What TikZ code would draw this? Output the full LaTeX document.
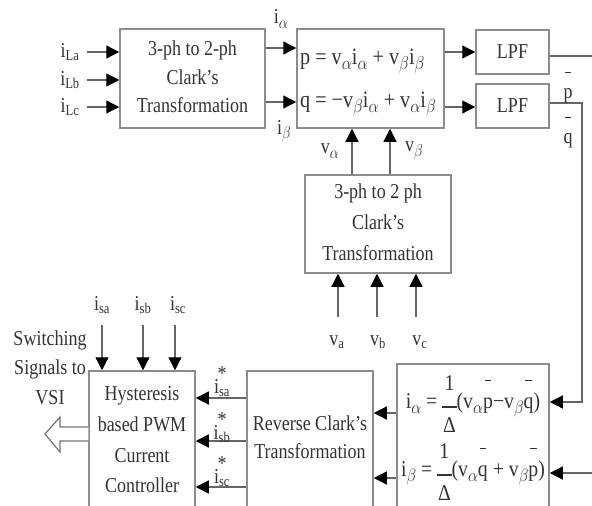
\documentclass[tikz,border=0pt]{standalone}
\usepackage{fontspec}
\setmainfont{Liberation Serif}
\usepackage{graphicx}
\usetikzlibrary{arrows.meta,calc}
\newcommand\vs[1]{\scalebox{1}[1.18]{#1}}
\newcommand\ml[1]{\scalebox{1}[1.18]{\begin{tabular}{@{}c@{}}#1\end{tabular}}}
\newcommand\ob[1]{\begin{tabular}[b]{@{}c@{}}\rule{6pt}{0.8pt}\\[-2pt]#1\end{tabular}}
\newcommand\st[1]{\scalebox{1}[1.18]{\begin{tabular}{@{}c@{}}*\\[-13pt]#1\end{tabular}}}
\newcommand\gs[1]{\raisebox{-4pt}{\fontsize{15}{15}\selectfont$#1$}}
\newcommand\myfr{\raisebox{-2.5pt}{\begin{tabular}{@{}c@{}}1\\[-10pt]\rule{13pt}{1.2pt}\\[-4pt]Δ\end{tabular}}}
\newcommand\fmq[1]{\scalebox{1.12}[1.3]{#1}}
\newcommand\fmi[1]{\scalebox{1.1}[1.25]{#1}}
\begin{document}
\begin{tikzpicture}[x=1pt,y=-1pt,
  font=\fontsize{18}{24}\selectfont, text=black!80,
  box/.style={draw=black!45, line width=1.5pt, inner sep=0pt},
  ln/.style={draw=black!60, line width=1.2pt},
  arr/.style={ln, -{Triangle[length=13pt,width=13pt,color=black]}}]
\useasboundingbox (0,0) rectangle (592,506);
\clip (0,0) rectangle (592,506);
\fill[white] (0,0) rectangle (592,506);

% boxes
\node[box, minimum width=145pt, minimum height=99pt] (clark1) at (192.5,78.5) {\ml{3-ph to 2-ph\\Clark's\\Transformation}};
\node[box, minimum width=147pt, minimum height=99pt] (pq) at (370.5,78.5) {};
\node[anchor=base west, inner sep=0pt] (peq) at (300,64) {\fmq{p = v\gs{\alpha}i\gs{\alpha} + v\gs{\beta}i\gs{\beta}}};
\node[anchor=base west, inner sep=0pt] (qeq) at (300,107) {\fmq{q = −v\gs{\beta}i\gs{\alpha} + v\gs{\alpha}i\gs{\beta}}};
\node[box, minimum width=73pt, minimum height=44pt] (lpf1) at (512.5,52) {\vs{LPF}};
\node[box, minimum width=73pt, minimum height=44pt] (lpf2) at (512.5,106) {\vs{LPF}};
\node[box, minimum width=146pt, minimum height=98pt] (clark2) at (378,224) {\ml{3-ph to 2 ph\\[2pt]Clark's\\[2pt]Transformation}};
\node[box, minimum width=152pt, minimum height=170pt] (inv) at (473,449) {};
\node[box, minimum width=126pt, minimum height=164pt] (rev) at (310,453) {};
\node[box, minimum width=106pt, minimum height=164pt] (hys) at (142,453) {};

\node[anchor=base, inner sep=0pt] (ialpha) at (473,408) {\fmi{i\gs{\alpha} = \myfr(v\gs{\alpha}\ob{p}−v\gs{\beta}\ob{q})}};
\node[anchor=base, inner sep=0pt] (ibeta) at (473,476) {\fmi{i\gs{\beta} = \myfr(v\gs{\alpha}\ob{q} + v\gs{\beta}\ob{p})}};
\node (revtxt) at (310,439) {\ml{Reverse Clark's\\Transformation}};
\node (hystxt) at (142,441) {\ml{Hysteresis\\[2pt]based PWM\\[2pt]Current\\[2pt]Controller}};
\node (sw) at (50,369) {\ml{Switching\\[1pt]Signals to\\[1pt]VSI}};

% load currents
\node (iLa) at (70,52) {\vs{i\textsubscript{La}}};
\node (iLb) at (70,80) {\vs{i\textsubscript{Lb}}};
\node (iLc) at (70,107) {\vs{i\textsubscript{Lc}}};
\coordinate (iLaS) at (87,52);
\coordinate (iLbS) at (87,80);
\coordinate (iLcS) at (87,107);
\draw[arr] (iLaS) -- (iLaS -| clark1.west);
\draw[arr] (iLbS) -- (iLbS -| clark1.west);
\draw[arr] (iLcS) -- (iLcS -| clark1.west);

% clark1 -> pq
\draw[arr] (clark1.east |- 0,48) -- (pq.west |- 0,48);
\draw[arr] (clark1.east |- 0,102) -- (pq.west |- 0,102);
\node (ia) at (281,19) {\vs{i\gs{\alpha}}};
\node (ib) at (284,131) {\vs{i\gs{\beta}}};

% pq -> LPF
\draw[arr] (pq.east |- 0,52) -- (lpf1.west |- 0,52);
\draw[arr] (pq.east |- 0,107) -- (lpf2.west |- 0,107);
\coordinate (pout) at (592,56);
\draw[ln] (lpf1.east |- pout) -- (pout);
\coordinate (qc1) at (582,103);
\coordinate (qc2) at (582,402);
\draw[arr] (lpf2.east |- qc1) -- (qc1) -- (qc2) -- (inv.east |- qc2);
\coordinate (pin) at (592,473);
\draw[arr] (pin) -- (inv.east |- pin);
\node (pbar) at (568,80) {\vs{\ob{p}}};
\node (qbar) at (568,125) {\vs{\ob{q}}};

% clark2 -> pq
\draw[arr] (clark2.north -| 352,0) -- (pq.south -| 352,0);
\draw[arr] (clark2.north -| 390,0) -- (pq.south -| 390,0);
\node (valpha) at (330,151) {\vs{v\gs{\alpha}}};
\node (vbeta) at (414,151) {\vs{v\gs{\beta}}};

% source voltages
\coordinate (vaS) at (338,317);
\coordinate (vbS) at (377,317);
\coordinate (vcS) at (416,317);
\draw[arr] (vaS) -- (vaS |- clark2.south);
\draw[arr] (vbS) -- (vbS |- clark2.south);
\draw[arr] (vcS) -- (vcS |- clark2.south);
\node (va) at (337,342) {\vs{v\textsubscript{a}}};
\node (vb) at (378,342) {\vs{v\textsubscript{b}}};
\node (vc) at (420,342) {\vs{v\textsubscript{c}}};

% inv -> rev
\draw[arr] (inv.west |- 0,413) -- (rev.east |- 0,413);
\draw[arr] (inv.west |- 0,478) -- (rev.east |- 0,478);

% rev -> hys
\draw[arr] (rev.west |- 0,398) -- (hys.east |- 0,398);
\draw[arr] (rev.west |- 0,441) -- (hys.east |- 0,441);
\draw[arr] (rev.west |- 0,487) -- (hys.east |- 0,487);
\node (isar) at (222,381) {\st{i\textsubscript{sa}}};
\node (isbr) at (222,427) {\st{i\textsubscript{sb}}};
\node (iscr) at (222,471) {\st{i\textsubscript{sc}}};

% sensed currents
\coordinate (isaS) at (102,325);
\coordinate (isbS) at (143,325);
\coordinate (iscS) at (175,325);
\draw[arr] (isaS) -- (isaS |- hys.north);
\draw[arr] (isbS) -- (isbS |- hys.north);
\draw[arr] (iscS) -- (iscS |- hys.north);
\node (isa) at (102,305) {\vs{i\textsubscript{sa}}};
\node (isb) at (143,305) {\vs{i\textsubscript{sb}}};
\node (isc) at (178,305) {\vs{i\textsubscript{sc}}};

% hollow output arrow
\draw[draw=black!55, line width=1.2pt, fill=white]
  (hys.west |- 0,427) -- (60,427) -- (60,417) -- (45,434) -- (60,452) -- (60,441) -- (hys.west |- 0,441);
\end{tikzpicture}
\end{document}
